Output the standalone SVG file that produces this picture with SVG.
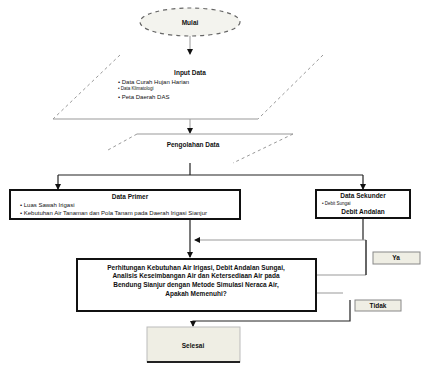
<svg xmlns="http://www.w3.org/2000/svg" width="422" height="368" viewBox="0 0 422 368">
<style>
text{font-family:"Liberation Sans",Arial,sans-serif;fill:#111}
.t{font-size:6.5px;font-weight:bold;text-anchor:middle}
.s{font-size:6px}
.c{fill:none;stroke:#222;stroke-width:1.2}
.g{fill:none;stroke:#999;stroke-width:1}
.d{fill:none;stroke:#999;stroke-width:1;stroke-dasharray:3 3}
.box{fill:#fff;stroke:#111;stroke-width:2}
.lab{fill:#efeee4;stroke:#888;stroke-width:1}
</style>
<defs>
<marker id="a" markerWidth="6" markerHeight="6" refX="5" refY="3" orient="auto" markerUnits="userSpaceOnUse">
<path d="M0,0 L6,3 L0,6 z" fill="#111"/>
</marker>
</defs>
<rect width="422" height="368" fill="#fff"/>
<g id="connectors">
<path class="g" d="M190,36 V54" marker-end="url(#a)"/>
<path class="g" d="M190,119 V133" marker-end="url(#a)"/>
<path class="c" d="M190,163 V175 M58,175 H363"/>
<path class="c" d="M58,175 V189" marker-end="url(#a)"/>
<path class="c" d="M363,175 V189" marker-end="url(#a)"/>
<path class="c" d="M363,219 V240"/>
<path class="g" d="M316,275 H366 V240 H195" marker-end="url(#a)"/>
<path class="c" d="M366,275 V240"/>
<path class="c" d="M190,219 V257" marker-end="url(#a)"/>
<path class="g" d="M316,293 H343"/>
<path class="c" d="M350,300 V321 H193 V326" marker-end="url(#a)"/>
</g>
<g id="start">
<ellipse cx="190" cy="22" rx="50" ry="14" fill="#f3f3ee" stroke="#666" stroke-width="1.2" stroke-dasharray="4 4"/>
<text class="t" x="190" y="25">Mulai</text>
</g>
<g id="input">
<path class="d" d="M120,55 L53,119 M323,55 L258,119"/>
<path class="g" d="M53,119 H258"/>
<text class="t" x="190" y="75">Input Data</text>
<text class="s" x="118" y="84">•  Data Curah Hujan Harian</text>
<text class="s" x="118" y="90" style="font-size:4.5px">•  Data Klimatologi</text>
<text class="s" x="118" y="99">•  Peta Daerah DAS</text>
</g>
<g id="process1">
<path class="g" d="M137,134 H293"/>
<path class="d" d="M137,134 L108,150 M293,134 L233,163"/>
<text class="t" x="193" y="147">Pengolahan Data</text>
</g>
<g id="left">
<rect class="box" x="10" y="190" width="230" height="29"/>
<text class="t" x="130" y="199">Data Primer</text>
<text class="s" x="20" y="207">•  Luas Sawah Irigasi</text>
<text class="s" x="20" y="215">•  Kebutuhan Air Tanaman dan Pola Tanam pada Daerah Irigasi Sianjur</text>
</g>
<g id="right">
<rect class="box" x="316" y="190" width="94" height="28"/>
<text class="t" x="363" y="198">Data Sekunder</text>
<text class="s" x="322" y="205" style="font-size:4.5px">•  Debit Sungai</text>
<text class="t" x="363" y="214">Debit Andalan</text>
</g>
<g id="main">
<rect class="box" x="77" y="259" width="239" height="52"/>
<text class="t" x="196" y="270">Perhitungan Kebutuhan Air Irigasi, Debit Andalan Sungai,</text>
<text class="t" x="196" y="278">Analisis Keseimbangan Air dan Ketersediaan Air pada</text>
<text class="t" x="196" y="287">Bendung Sianjur dengan Metode Simulasi Neraca Air,</text>
<text class="t" x="196" y="296">Apakah Memenuhi?</text>
</g>
<g id="ya">
<rect class="lab" x="373" y="252" width="47" height="12"/>
<text class="t" x="396" y="260">Ya</text>
</g>
<g id="tidak">
<rect class="lab" x="355" y="300" width="46" height="11"/>
<text class="t" x="378" y="308">Tidak</text>
</g>
<g id="end">
<rect x="147" y="327" width="93" height="35" fill="#efeee4" stroke="#bbb"/>
<path d="M147,362 H240" stroke="#222" stroke-width="2"/>
<text class="t" x="193" y="348">Selesai</text>
</g>
</svg>
